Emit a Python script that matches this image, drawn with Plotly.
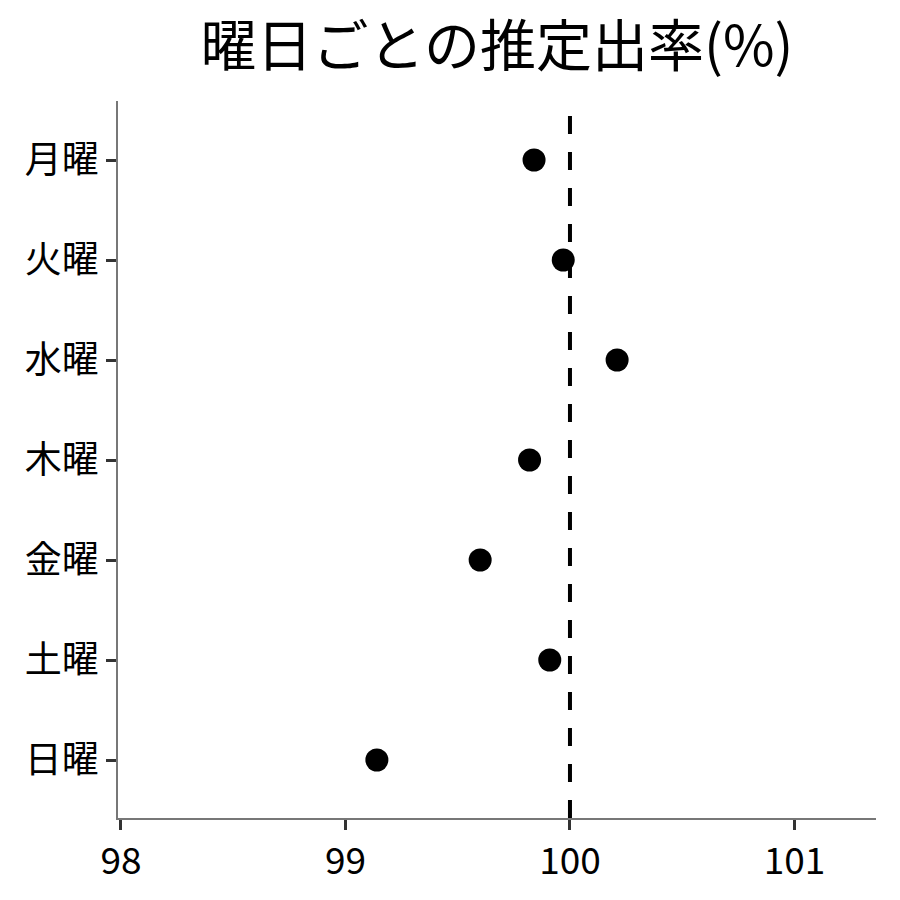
import plotly.graph_objects as go

# 曜日ごとの推定出率
days = ["月曜", "火曜", "水曜", "木曜", "金曜", "土曜", "日曜"]
rates = [99.84, 99.97, 100.21, 99.82, 99.60, 99.91, 99.14]
ref_value = 100
x_ticks = [98, 99, 100, 101]

FONT = "Noto Sans CJK JP"

fig = go.Figure()
fig.add_trace(go.Scatter(
    x=rates, y=days, mode="markers",
    marker=dict(color="black", size=23),
    showlegend=False,
))

# reference line at 100
fig.add_vline(x=ref_value, line=dict(color="black", width=4, dash="18px,18px"))

# page has an 8px body margin, so margins are shifted to compensate
fig.update_layout(
    width=900, height=900,
    margin=dict(l=110, r=32, t=93, b=90),
    plot_bgcolor="white", paper_bgcolor="white",
    font=dict(family=FONT, color="black"),
    title=dict(text="曜日ごとの推定出率(%)", x=0.5, xref="paper", xanchor="center",
               y=1 - 38 / 900, yanchor="middle", font=dict(size=56, family=FONT)),
)
fig.update_xaxes(
    range=[97.987, 101.363], tickvals=x_ticks, showgrid=False, zeroline=False,
    showline=True, linecolor="#777", linewidth=1.5,
    ticks="outside", ticklen=10, tickwidth=3, tickcolor="#333",
    tickfont=dict(size=37, family=FONT),
)
fig.update_yaxes(
    range=[6.58, -0.59], categoryorder="array", categoryarray=days,
    showgrid=False, zeroline=False,
    showline=True, linecolor="#777", linewidth=1.5,
    ticks="outside", ticklen=10, tickwidth=3, tickcolor="#333",
    tickfont=dict(size=37, family=FONT),
)

fig.write_html("out.html")
